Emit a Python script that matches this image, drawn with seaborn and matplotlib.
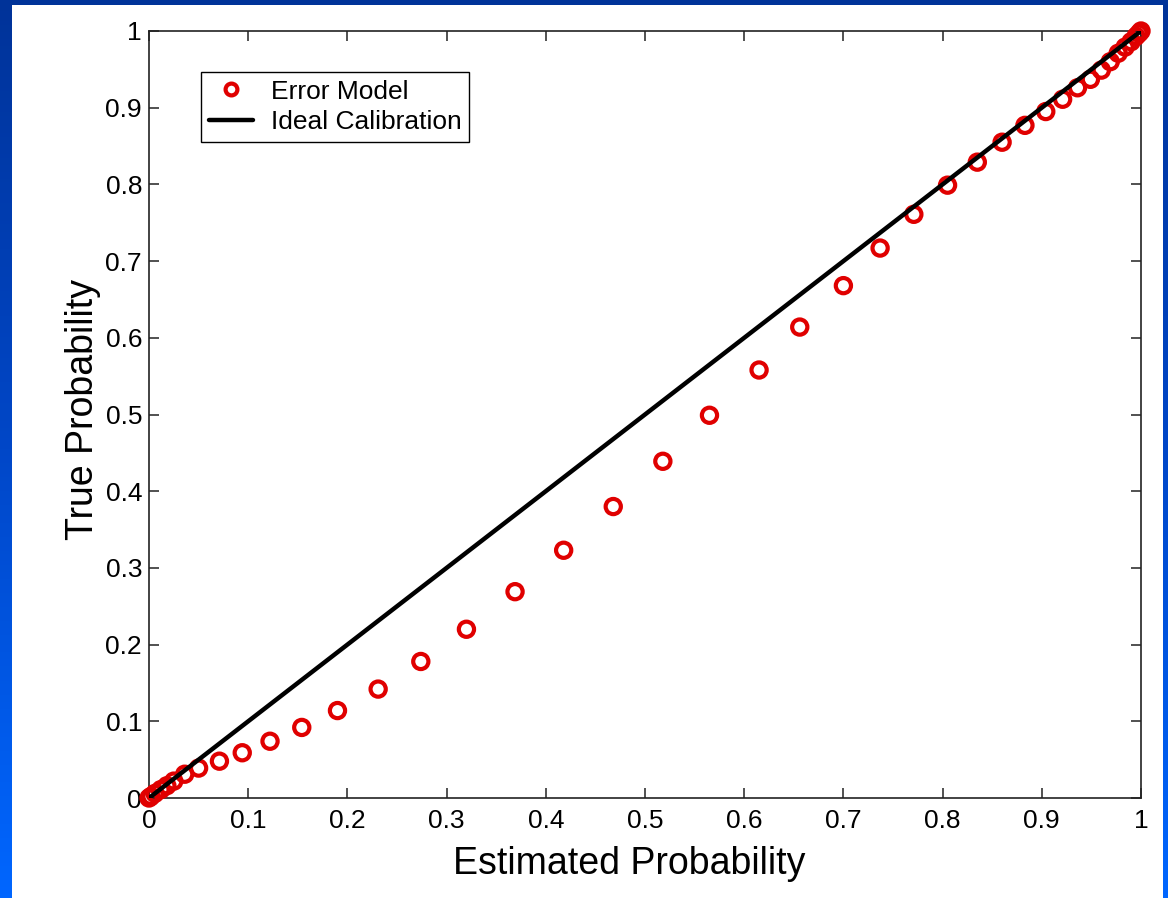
import numpy as np
import matplotlib
matplotlib.use("Agg")
import matplotlib.pyplot as plt
from matplotlib.lines import Line2D
from matplotlib.patches import Rectangle
from matplotlib.colors import LinearSegmentedColormap
import seaborn as sns

# Calibration of the error model: estimated vs. true probability
estimated_prob = [0.0, 0.002, 0.006, 0.012, 0.018, 0.025, 0.036, 0.050, 0.071, 0.094,
                  0.122, 0.154, 0.190, 0.231, 0.274, 0.320, 0.369, 0.418, 0.468, 0.518,
                  0.565, 0.615, 0.656, 0.700, 0.737, 0.771, 0.805, 0.835, 0.860, 0.883,
                  0.904, 0.921, 0.936, 0.949, 0.960, 0.969, 0.977, 0.984, 0.990, 0.995,
                  0.998, 1.0]
true_prob = [0.0, 0.002, 0.006, 0.011, 0.016, 0.022, 0.031, 0.039, 0.048, 0.059,
             0.074, 0.092, 0.114, 0.142, 0.178, 0.220, 0.269, 0.323, 0.380, 0.439,
             0.499, 0.558, 0.614, 0.668, 0.717, 0.761, 0.799, 0.829, 0.855, 0.877,
             0.895, 0.911, 0.926, 0.937, 0.949, 0.960, 0.971, 0.979, 0.986, 0.993,
             0.997, 1.0]
ideal_x = [0.0, 1.0]
ideal_y = [0.0, 1.0]

tick_values = [0, 0.1, 0.2, 0.3, 0.4, 0.5, 0.6, 0.7, 0.8, 0.9, 1]
tick_labels = ["0", "0.1", "0.2", "0.3", "0.4", "0.5", "0.6", "0.7", "0.8", "0.9", "1"]

series_names = ["Error Model", "Ideal Calibration"]
x_label = "Estimated Probability"
y_label = "True Probability"

RED = "#e00000"

sns.set_theme(style="white")
plt.rcParams["font.family"] = ["Liberation Sans", "DejaVu Sans"]
plt.rcParams["text.color"] = "black"
plt.rcParams["axes.labelcolor"] = "black"

W, H = 1168, 898
fig = plt.figure(figsize=(W / 100, H / 100), dpi=100)

# slide background: vertical blue gradient with a white panel on top
bg = fig.add_axes([0, 0, 1, 1], zorder=-10)
grad = np.linspace(0, 1, 256).reshape(-1, 1)
cmap = LinearSegmentedColormap.from_list("slide", ["#003399", "#0047c8", "#0066ff"])
bg.imshow(grad, aspect="auto", cmap=cmap, extent=[0, 1, 0, 1], origin="upper")
bg.add_patch(Rectangle((12 / W, 0), (1163 - 12) / W, 1 - 5 / H,
                       transform=bg.transAxes, facecolor="white", edgecolor="none"))
bg.set_axis_off()

ax = fig.add_axes([149 / W, 1 - 798 / H, (1141 - 149) / W, (798 - 31) / H])
ax.set_facecolor("white")

sns.scatterplot(x=estimated_prob, y=true_prob, ax=ax, marker="o", s=120,
                facecolors="none", edgecolors=RED, linewidth=3.0,
                clip_on=False, zorder=3, legend=False)
sns.lineplot(x=ideal_x, y=ideal_y, ax=ax, color="black", linewidth=3.2,
             zorder=4, legend=False)

ax.set_xlim(0, 1)
ax.set_ylim(0, 1)
ax.set_xticks(tick_values)
ax.set_xticklabels(tick_labels)
ax.set_yticks(tick_values)
ax.set_yticklabels(tick_labels)

ax.tick_params(axis="both", direction="in", length=7, width=1.1, color="#222222",
               labelsize=19, labelcolor="black", top=True, right=True,
               bottom=True, left=True)
ax.tick_params(axis="x", pad=8)
ax.tick_params(axis="y", pad=5)
for sp in ax.spines.values():
    sp.set_visible(True)
    sp.set_color("#222222")
    sp.set_linewidth(1.2)

ax.set_xlabel(x_label, fontsize=27, color="black")
ax.xaxis.set_label_coords(0.484, -0.063)
ax.set_ylabel(y_label, fontsize=27, color="black")
ax.yaxis.set_label_coords(-0.048, 0.506)

handles = [
    Line2D([], [], marker="o", linestyle="none", markersize=8.5, markeredgewidth=3.0,
           markerfacecolor="none", markeredgecolor=RED),
    Line2D([], [], color="black", linewidth=3.2),
]
leg = ax.legend(handles, series_names, loc="upper left",
                bbox_to_anchor=(0.052, 0.947), fontsize=19, frameon=True,
                fancybox=False, edgecolor="black", framealpha=1,
                handlelength=1.7, handletextpad=0.65, labelspacing=0.25,
                borderpad=0.3, borderaxespad=0, numpoints=1, labelcolor="black")
leg.get_frame().set_linewidth(1.0)

fig.savefig("out.png", dpi=100)
